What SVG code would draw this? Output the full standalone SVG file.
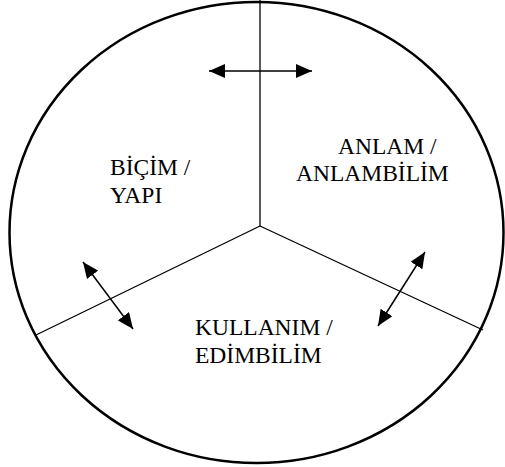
<svg xmlns="http://www.w3.org/2000/svg" width="505" height="467" viewBox="0 0 505 467">
<style>
text{font-family:'Liberation Serif','Times New Roman',serif;font-size:23.5px;fill:#000}
.ln{stroke:#000;stroke-width:1.3;fill:none}
.ar{stroke:#000;stroke-width:1.5;marker-start:url(#ah);marker-end:url(#ah)}
</style>
<defs>
<marker id="ah" viewBox="0 0 10 10" refX="10" refY="5" markerWidth="16" markerHeight="14" orient="auto-start-reverse" markerUnits="userSpaceOnUse" preserveAspectRatio="none">
<path d="M0,0 L10,5 L0,10 Z" fill="#000"/>
</marker>
</defs>
<g id="circle">
<ellipse cx="256.5" cy="232.5" rx="247" ry="230.5" fill="#fff" stroke="#000" stroke-width="2.5"/>
</g>
<g id="connectors">
<line class="ln" x1="260" y1="0" x2="260" y2="226"/>
<line class="ln" x1="260" y1="226" x2="36" y2="335"/>
<line class="ln" x1="260" y1="226" x2="483" y2="330"/>
<line class="ar" x1="209" y1="71" x2="312" y2="71"/>
<line class="ar" x1="83" y1="262" x2="133" y2="329"/>
<line class="ar" x1="425" y1="252" x2="378" y2="326"/>
</g>
<g id="bicim">
<text x="110" y="175">BİÇİM /</text>
<text x="110" y="203">YAPI</text>
</g>
<g id="anlam">
<text x="338" y="154">ANLAM /</text>
<text x="296" y="181">ANLAMBİLİM</text>
</g>
<g id="kullanim">
<text x="195" y="335">KULLANIM /</text>
<text x="195" y="363">EDİMBİLİM</text>
</g>
</svg>
